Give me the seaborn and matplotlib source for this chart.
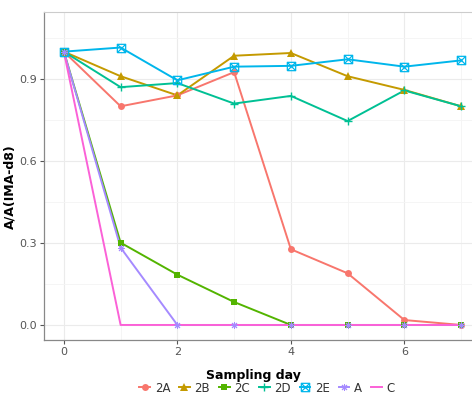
import numpy as np
import pandas as pd
import matplotlib
matplotlib.use("Agg")
import matplotlib.pyplot as plt
from matplotlib.path import Path
from matplotlib.lines import Line2D
import seaborn as sns

days = [0, 1, 2, 3, 4, 5, 6, 7]
series_names = ["2A", "2B", "2C", "2D", "2E", "A", "C"]
v_2A = [1.0, 0.80, 0.84, 0.925, 0.277, 0.189, 0.018, 0.0]
v_2B = [1.0, 0.91, 0.84, 0.985, 0.995, 0.91, 0.86, 0.80]
v_2C = [1.0, 0.301, 0.184, 0.084, 0.0, 0.0, 0.0, 0.0]
v_2D = [1.0, 0.87, 0.885, 0.81, 0.838, 0.746, 0.858, 0.80]
v_2E = [1.0, 1.015, 0.895, 0.945, 0.948, 0.972, 0.945, 0.968]
v_A = [1.0, 0.283, 0.0, 0.0, 0.0, 0.0, 0.0, 0.0]
v_C = [1.0, 0.0, 0.0, 0.0, 0.0, 0.0, 0.0, 0.0]
values = [v_2A, v_2B, v_2C, v_2D, v_2E, v_A, v_C]
colors = ["#F8766D", "#C49A00", "#53B400", "#00C094", "#00B6EB", "#A58AFF", "#FB61D7"]

df = pd.DataFrame({
    "day": np.tile(days, len(series_names)),
    "value": np.concatenate(values),
    "group": np.repeat(series_names, len(days)),
})

# square with cross marker (ggplot shape 7)
sq_verts = [(-1, -1), (1, -1), (1, 1), (-1, 1), (-1, -1),
            (-1, -1), (1, 1), (-1, 1), (1, -1)]
sq_codes = [Path.MOVETO, Path.LINETO, Path.LINETO, Path.LINETO, Path.LINETO,
            Path.MOVETO, Path.LINETO, Path.MOVETO, Path.LINETO]
boxx = Path(sq_verts, sq_codes)

marker_spec = {
    "2A": dict(marker="o", markersize=5, mew=0),
    "2B": dict(marker="^", markersize=5.5, mew=0),
    "2C": dict(marker="s", markersize=5, mew=0),
    "2D": dict(marker="+", markersize=6, mew=1.0),
    "2E": dict(marker=boxx, markersize=6, mew=0.9, markerfacecolor="none"),
    "A": dict(marker=(8, 2, 0), markersize=5, mew=0.7),
    "C": dict(marker=None),
}

fig = plt.figure(figsize=(4.72, 3.94), dpi=100)
ax = fig.add_axes([44 / 472, 1 - 340 / 394, (481 - 44) / 472, (340 - 12) / 394])
ax.set_facecolor("white")

# lines first (as ggplot geom_line), then points on top (geom_point)
for name, col in zip(series_names, colors):
    sub = df[df["group"] == name]
    sns.lineplot(data=sub, x="day", y="value", ax=ax, color=col, linewidth=1.4,
                 legend=False)
for name, col in zip(series_names, colors):
    spec = marker_spec[name]
    if spec["marker"] is None:
        continue
    sub = df[df["group"] == name]
    sns.lineplot(data=sub, x="day", y="value", ax=ax, color=col, linestyle="none",
                 legend=False, markeredgecolor=col, **spec)

ax.set_xlim(-0.35, 7.35)
ax.set_ylim(-0.055, 1.145)
ax.set_xticks([0, 2, 4, 6])
ax.set_xticks([1, 3, 5, 7], minor=True)
ax.set_yticks([0.0, 0.3, 0.6, 0.9])
ax.set_yticks([0.15, 0.45, 0.75, 1.05], minor=True)
ax.set_yticklabels(["0.0", "0.3", "0.6", "0.9"])
ax.grid(which="major", color="#EBEBEB", linewidth=0.8)
ax.grid(which="minor", color="#F4F4F4", linewidth=0.6)
ax.set_axisbelow(True)
ax.tick_params(which="major", length=3, color="#555555", labelcolor="#555555", labelsize=8, pad=2)
ax.tick_params(which="minor", length=0)
for s in ["left", "bottom"]:
    ax.spines[s].set_color("#888888")
    ax.spines[s].set_linewidth(0.9)
for s in ["top", "right"]:
    ax.spines[s].set_color("#CCCCCC")
    ax.spines[s].set_linewidth(0.8)

ax.set_xlabel("Sampling day", fontsize=9, fontweight="bold")
ax.xaxis.set_label_coords((253 - 44) / 437, -(369 - 340) / 328, transform=ax.transAxes)
ax.set_ylabel("A/A(IMA-d8)", fontsize=9, fontweight="bold")
ax.yaxis.set_label_coords(-(44 - 16) / 437, 0.5 - ((187 - 176) / 328), transform=ax.transAxes)

handles = []
for name, col in zip(series_names, colors):
    spec = dict(marker_spec[name])
    handles.append(Line2D([], [], color=col, linewidth=1.4, markeredgecolor=col, **spec))
fig.legend(handles, series_names, loc="center", bbox_to_anchor=(267 / 472, 1 - 388 / 394),
           ncol=7, frameon=False, fontsize=8.5, handlelength=0.9, handletextpad=0.4,
           columnspacing=0.75, labelcolor="#333333")

fig.savefig("out.png", dpi=100)
